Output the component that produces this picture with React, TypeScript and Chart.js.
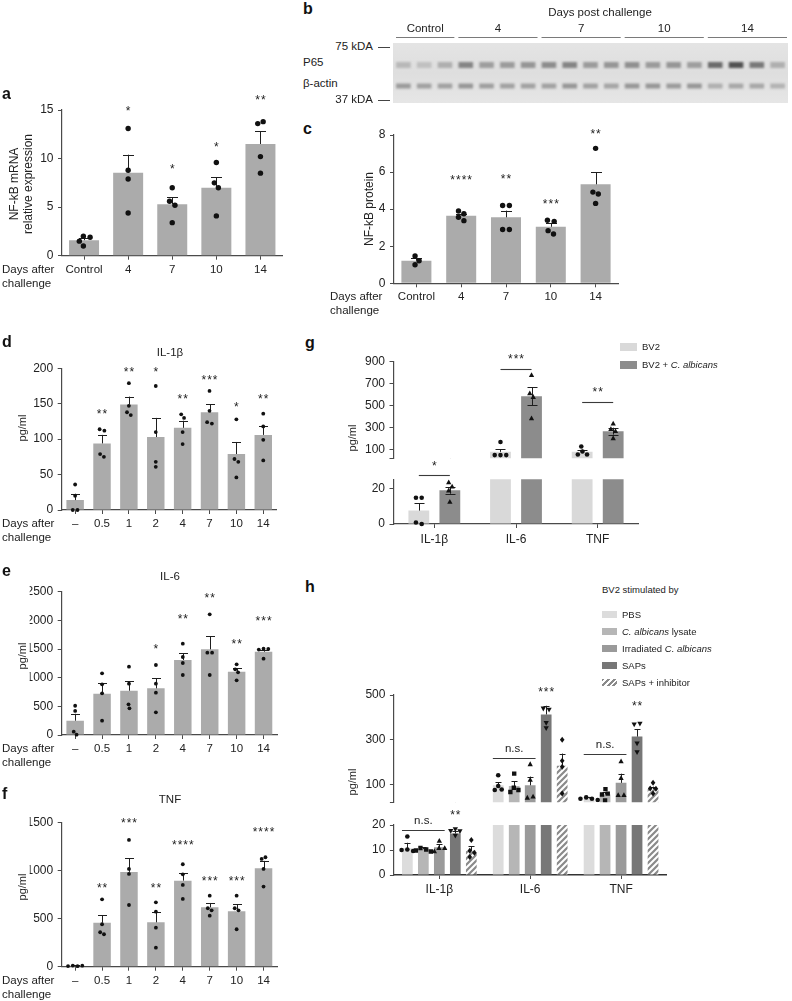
import React, { useEffect, useRef } from 'react';
import { Chart, registerables } from 'chart.js';

Chart.register(...registerables);

const FONT = '"Liberation Sans", Arial, Helvetica, sans-serif';
const INK = '#222222';
const AXIS = '#4a4a4a';
const BAR = '#ababab';
Chart.defaults.font.family = FONT;
Chart.defaults.color = INK;

// ---------------- panel a ----------------
const aLabels = ['Control', '4', '7', '10', '14'];
const aMeans = [1.6, 8.55, 5.3, 7.0, 11.5];
const aSem = [0.2, 1.85, 0.7, 1.1, 1.3];
const aPoints = [[2.0, 1.9, 1.5, 1.0], [13.1, 8.8, 7.9, 4.4], [7.0, 5.6, 5.2, 3.4], [9.6, 7.5, 7.0, 4.1], [13.6, 13.8, 10.2, 8.5]];
const aStars = ['', '*', '*', '*', '**'];
const aStarAt = [0, 15.1, 9.1, 11.4, 16.2];
const aTicks = [0, 5, 10, 15];

// ---------------- panel b (blot) ----------------
const blotGroups = ['Control', '4', '7', '10', '14'];
const blotGroupLanes = [3, 4, 4, 4, 4];
const blotP65 = [0.25, 0.2, 0.3, 0.55, 0.4, 0.42, 0.45, 0.5, 0.55, 0.42, 0.45, 0.48, 0.42, 0.45, 0.4, 0.7, 0.85, 0.62, 0.3];
const blotActin = [0.42, 0.38, 0.38, 0.45, 0.4, 0.38, 0.38, 0.38, 0.45, 0.38, 0.36, 0.45, 0.45, 0.42, 0.45, 0.3, 0.35, 0.35, 0.28];
const blotP65Band = [19, 25];
const blotActinBand = [40.5, 45.5];

// ---------------- panel c ----------------
const cLabels = ['Control', '4', '7', '10', '14'];
const cMeans = [1.22, 3.65, 3.56, 3.05, 5.34];
const cSem = [0.13, 0.1, 0.36, 0.19, 0.65];
const cPoints = [[1.47, 1.22, 1.0], [3.9, 3.75, 3.56, 3.38], [4.2, 4.2, 2.9, 2.9], [3.4, 3.34, 2.84, 2.66], [7.28, 4.92, 4.82, 4.31]];
const cStars = ['', '****', '**', '***', '**'];
const cStarAt = [0, 5.7, 5.73, 4.39, 8.16];
const cTicks = [0, 2, 4, 6, 8];

// ---------------- panels d, e, f ----------------
const dayLabels = ['–', '0.5', '1', '2', '4', '7', '10', '14'];

const dMeans = [14, 94, 149, 103, 116, 138, 79, 106];
const dSem = [9, 12, 11, 27, 10, 11, 17, 13];
const dPoints = [[36, 20, 0, 0], [114, 112, 79, 75], [179, 147, 138, 134], [175, 110, 68, 61], [135, 130, 110, 93], [168, 140, 124, 122], [128, 72, 68, 46], [136, 118, 99, 70]];
const dStars = ['', '**', '**', '*', '**', '***', '*', '**'];
const dStarAt = [0, 138, 198, 198, 160, 186, 148, 160];
const dTicks = [0, 50, 100, 150, 200];

const eMeans = [250, 721, 773, 814, 1308, 1495, 1105, 1453];
const eSem = [120, 186, 169, 175, 122, 232, 58, 24];
const ePoints = [[510, 420, 58, 5], [1076, 884, 727, 250], [1192, 895, 535, 465], [1221, 895, 738, 396], [1593, 1361, 1256, 1047], [2105, 1436, 1436, 1047], [1233, 1146, 1094, 954], [1506, 1500, 1490, 1331]];
const eStars = ['', '', '', '*', '**', '**', '**', '***'];
const eStarAt = [0, 0, 0, 1540, 2064, 2430, 1617, 2024];
const eTicks = [0, 500, 1000, 1500, 2000, 2500];

const fMeans = [8, 457, 985, 461, 894, 617, 576, 1023];
const fSem = [5, 80, 142, 111, 77, 45, 73, 76];
const fPoints = [[12, 5, 7, 11], [700, 441, 358, 337], [1317, 1016, 964, 641], [669, 572, 405, 198], [1064, 960, 849, 704], [738, 607, 586, 530], [738, 607, 586, 389], [1120, 1137, 1016, 832]];
const fStars = ['', '**', '***', '**', '****', '***', '***', '****'];
const fStarAt = [0, 842, 1518, 842, 1283, 912, 912, 1421];
const fTicks = [0, 500, 1000, 1500];

// ---------------- panel g ----------------
const cytLabels = ['IL-1β', 'IL-6', 'TNF'];
const gBv2Means = [7.5, 83, 84];
const gBv2Sem = [4.1, 25, 19];
const gBv2Points = [[14.7, 14.7, 0.8, 0], [172, 54, 54, 54], [131, 87, 59, 59]];
const gCalbMeans = [18.9, 585, 270];
const gCalbSem = [2.0, 80, 31];
const gCalbPoints = [[23.2, 20.9, 18.7, 12.3], [775, 610, 577, 384], [337, 288, 269, 205]];
const gSig = ['*', '***', '**'];
const gSigAt = [27.3, 834, 537];
const gUpperTicks = [25, 100, 300, 500, 700, 900];
const gLowerTicks = [0, 10, 20, 25];

// ---------------- panel h ----------------
const hPbsMeans = [10.7, 96, 37];
const hPbsSem = [2.2, 14, 7];
const hPbsPoints = [[15.4, 10.2, 9.6, 10.0], [141, 93, 77, 75], [42, 36, 36, 30]];
const hLysMeans = [10.3, 93, 55];
const hLysSem = [0.8, 21, 11];
const hLysPoints = [[10.8, 10.2, 9.8, 9.4], [148, 85, 75, 66], [79, 59, 55, 28]];
const hIrrMeans = [11.1, 96, 107];
const hIrrSem = [1.2, 39, 41];
const hIrrPoints = [[13.6, 10.7, 10.7, 9.4], [190, 120, 40, 45], [203, 128, 52, 52]];
const hSapMeans = [16.6, 413, 314];
const hSapSem = [1.2, 39, 34];
const hSapPoints = [[18.4, 17.6, 17.7, 15.8], [440, 435, 376, 352], [369, 372, 284, 245]];
const hInhMeans = [9.7, 183, 79];
const hInhSem = [1.9, 55, 11];
const hInhPoints = [[14, 9.7, 8.9, 7.2], [300, 206, 179, 59], [107, 82, 81, 59]];
const hNs = ['n.s.', 'n.s.', 'n.s.'];
const hNsAt = [18, 217.5, 235];
const hStars = ['**', '***', '**'];
const hStarAt = [24.7, 521, 459];
const hUpperTicks = [20, 100, 300, 500];
const hLowerTicks = [0, 10, 20];

// ---------------- helpers ----------------
type Shape = 'circle' | 'square' | 'triangle' | 'triangleDown' | 'diamond';

function hatchPattern(ctx: CanvasRenderingContext2D): CanvasPattern {
  const c = document.createElement('canvas');
  c.width = 6;
  c.height = 6;
  const g = c.getContext('2d')!;
  g.fillStyle = '#ffffff';
  g.fillRect(0, 0, 6, 6);
  g.strokeStyle = '#8a8a8a';
  g.lineWidth = 2.2;
  g.beginPath();
  g.moveTo(-1, 7); g.lineTo(7, -1);
  g.moveTo(-2, 2); g.lineTo(2, -2);
  g.moveTo(4, 8); g.lineTo(8, 4);
  g.stroke();
  return ctx.createPattern(c, 'repeat')!;
}

function swarm(ys: number[], r: number): number[] {
  const xs: number[] = new Array(ys.length).fill(0);
  const dmin = 2 * r + 0.3;
  const placed: number[] = [];
  ys.forEach((y, i) => {
    for (let k = 0; k < 40; k++) {
      const cand = k === 0 ? 0 : (k % 2 ? 1 : -1) * Math.ceil(k / 2) * (r / 2);
      let ok = true;
      for (const j of placed) {
        const dx = xs[j] - cand;
        const dy = ys[j] - y;
        if (dx * dx + dy * dy < dmin * dmin) { ok = false; break; }
      }
      if (ok) { xs[i] = cand; break; }
    }
    placed.push(i);
  });
  const seen = new Array(ys.length).fill(false);
  for (let i = 0; i < ys.length; i++) {
    if (seen[i]) continue;
    const stack = [i];
    const cl: number[] = [];
    seen[i] = true;
    while (stack.length) {
      const a = stack.pop()!;
      cl.push(a);
      for (let b = 0; b < ys.length; b++) {
        if (!seen[b] && Math.abs(ys[a] - ys[b]) < dmin) { seen[b] = true; stack.push(b); }
      }
    }
    const m = cl.reduce((s, a) => s + xs[a], 0) / cl.length;
    cl.forEach((a) => { xs[a] -= m; });
  }
  return xs;
}

function drawShape(ctx: CanvasRenderingContext2D, shape: Shape, x: number, y: number, r: number) {
  ctx.beginPath();
  if (shape === 'circle') ctx.arc(x, y, r, 0, Math.PI * 2);
  else if (shape === 'square') ctx.rect(x - r * 0.95, y - r * 0.95, r * 1.9, r * 1.9);
  else if (shape === 'triangle') {
    ctx.moveTo(x, y - r * 1.3); ctx.lineTo(x + r * 1.15, y + r * 0.8); ctx.lineTo(x - r * 1.15, y + r * 0.8); ctx.closePath();
  } else if (shape === 'triangleDown') {
    ctx.moveTo(x, y + r * 1.3); ctx.lineTo(x + r * 1.15, y - r * 0.8); ctx.lineTo(x - r * 1.15, y - r * 0.8); ctx.closePath();
  } else {
    ctx.moveTo(x, y - r * 1.3); ctx.lineTo(x + r, y); ctx.lineTo(x, y + r * 1.3); ctx.lineTo(x - r, y); ctx.closePath();
  }
  ctx.fillStyle = '#111111';
  ctx.fill();
}

function drawStars(ctx: any, t: string, x: number, cy: number) {
  ctx.font = `12px ${FONT}`;
  ctx.letterSpacing = '1px';
  ctx.fillText(t, x + 0.5, cy + 2.8);
  ctx.letterSpacing = '0px';
}

type SeriesSpec = { means: number[]; sems: number[]; points: number[][]; fill: string; shape: Shape; both?: boolean };
type Note = { kind: 'star' | 'sig'; text: string; cat: number; at: number; ds?: number; from?: number; to?: number; edges?: boolean };
type PanelSpec = {
  labels: string[]; series: SeriesSpec[]; min: number; max: number; ticks: number[]; blank?: number[];
  area: { l: number; t: number; r: number; b: number }; box: { x: number; y: number; w: number };
  showX: boolean; dashed?: boolean; cat: number; bar: number; r: number; cap: number;
  clipTop: number; clipBottom: number; notes: Note[]; xFont: number; xPad: number;
};

const starNotes = (texts: string[], at: number[], ds = 0): Note[] =>
  texts.map((t, i) => ({ kind: 'star' as const, text: t, cat: i, at: at[i], ds })).filter((n) => n.text);

function barPanel(p: PanelSpec) {
  const XH = p.showX ? 24 : 0;
  const YW = 32;
  const h = Math.ceil(p.area.b + XH + (p.showX ? 4 : 2.5) - p.box.y);
  const box = { x: p.box.x, y: p.box.y, w: p.box.w, h };
  const padding = {
    left: p.area.l - box.x - YW,
    top: p.area.t - box.y,
    right: box.x + box.w - p.area.r,
    bottom: box.y + h - p.area.b - XH,
  };
  const visible = (v: number) => !((p.clipBottom === 0 && v < p.min) || (p.clipTop === 0 && v > p.max));
  const make = (ctx: CanvasRenderingContext2D) => {
    const marks = {
      id: 'marks',
      afterDatasetsDraw(chart: any) {
        const c = chart.ctx;
        const y = chart.scales.y;
        const ca = chart.chartArea;
        c.save();
        c.beginPath();
        c.rect(ca.left - 8, ca.top - p.clipTop, ca.right - ca.left + 16, ca.bottom - ca.top + p.clipTop + p.clipBottom);
        c.clip();
        p.series.forEach((s, di) => {
          const meta = chart.getDatasetMeta(di);
          meta.data.forEach((el: any, i: number) => {
            const x = Math.round(el.x) + 0.5;
            const m = s.means[i];
            const e = s.sems[i];
            const yT = y.getPixelForValue(m + e);
            const yB = y.getPixelForValue(s.both ? m - e : m);
            c.strokeStyle = '#1e1e1e';
            c.lineWidth = 1;
            c.beginPath();
            c.moveTo(x, yB); c.lineTo(x, yT);
            c.moveTo(x - p.cap / 2, Math.round(yT) + 0.5); c.lineTo(x + p.cap / 2, Math.round(yT) + 0.5);
            if (s.both) { c.moveTo(x - p.cap / 2, Math.round(yB) + 0.5); c.lineTo(x + p.cap / 2, Math.round(yB) + 0.5); }
            c.stroke();
            const vals = s.points[i].filter(visible);
            const ys = vals.map((v) => y.getPixelForValue(v));
            const dx = swarm(ys, p.r);
            ys.forEach((py, k) => drawShape(c, s.shape, el.x + dx[k], py, p.r));
          });
        });
        c.restore();
        c.save();
        c.fillStyle = INK;
        c.strokeStyle = '#3a3a3a';
        c.lineWidth = 1.1;
        c.textAlign = 'center';
        c.textBaseline = 'middle';
        for (const n of p.notes) {
          const py = y.getPixelForValue(n.at);
          if (n.kind === 'star') {
            const el = chart.getDatasetMeta(n.ds ?? 0).data[n.cat];
            drawStars(c, n.text, el.x, py);
          } else {
            const a = chart.getDatasetMeta(n.from ?? 0).data[n.cat];
            const b = chart.getDatasetMeta(n.to ?? 1).data[n.cat];
            const x0 = n.edges ? a.x - a.width / 2 : a.x;
            const x1 = n.edges ? b.x + b.width / 2 : b.x;
            const ly = Math.round(py) + 0.5;
            c.beginPath(); c.moveTo(x0, ly); c.lineTo(x1, ly); c.stroke();
            const mx = (x0 + x1) / 2;
            if (n.text === 'n.s.') {
              c.font = `11.5px ${FONT}`;
              c.fillText(n.text, mx, py - 9.3);
            } else {
              drawStars(c, n.text, mx, py - 11.5);
            }
          }
        }
        c.restore();
      },
    };
    const datasets = p.series.map((s) => ({
      type: 'bar',
      data: s.means.slice(),
      backgroundColor: s.fill === 'hatch' ? hatchPattern(ctx) : s.fill,
      borderWidth: 0,
      barPercentage: p.bar,
      categoryPercentage: p.cat,
      clip: 0,
    }));
    return {
      type: 'bar',
      data: { labels: p.labels, datasets },
      options: {
        responsive: false,
        maintainAspectRatio: false,
        animation: false,
        events: [],
        layout: { padding },
        plugins: { legend: { display: false }, tooltip: { enabled: false } },
        scales: {
          x: {
            display: p.showX,
            offset: true,
            grid: { display: true, drawOnChartArea: false, drawTicks: true, tickLength: 4, offset: false, color: AXIS, lineWidth: 1 },
            border: { display: true, color: p.dashed ? '#333333' : AXIS, width: p.dashed ? 1.6 : 1.2, dash: p.dashed ? [2, 3] : [] },
            ticks: { color: INK, font: { size: p.xFont }, padding: p.xPad, maxRotation: 0, minRotation: 0, autoSkip: false },
            afterFit: (s: any) => { s.height = XH; },
          },
          y: {
            min: p.min,
            max: p.max,
            grid: { display: true, drawOnChartArea: false, drawTicks: true, tickLength: 4, color: AXIS, lineWidth: 1 },
            border: { display: true, color: AXIS, width: 1.2 },
            ticks: {
              color: INK,
              font: { size: 12 },
              padding: 4.5,
              callback: (v: number) => (p.blank && p.blank.includes(v) ? '' : String(v)),
            },
            afterBuildTicks: (s: any) => { s.ticks = p.ticks.map((v) => ({ value: v })); },
            afterFit: (s: any) => { s.width = YW; },
          },
        },
      },
      plugins: [marks],
    };
  };
  return { box, make };
}

function blotPanel() {
  const box = { x: 393, y: 18, w: 399, h: 88 };
  const area = { l: 393, t: 43, r: 788, b: 103 };
  const padding = { left: area.l - box.x, top: area.t - box.y, right: box.x + box.w - area.r, bottom: box.y + box.h - area.b };
  const shade = (d: number) => {
    const g = Math.round(226 - d * 170);
    return `rgb(${g},${g},${g})`;
  };
  const make = () => {
    const deco = {
      id: 'deco',
      beforeDatasetsDraw(chart: any) {
        const c = chart.ctx;
        const ca = chart.chartArea;
        const grad = c.createLinearGradient(0, ca.top, 0, ca.bottom);
        grad.addColorStop(0, '#e4e4e4');
        grad.addColorStop(0.5, '#dedede');
        grad.addColorStop(1, '#e6e6e6');
        c.fillStyle = grad;
        c.fillRect(ca.left, ca.top, ca.right - ca.left, ca.bottom - ca.top);
        c.save();
        c.filter = 'blur(1.1px)';
      },
      afterDatasetsDraw(chart: any) {
        const c = chart.ctx;
        c.restore();
        const ca = chart.chartArea;
        const xs = chart.scales.x;
        const laneW = (ca.right - ca.left) / blotP65.length;
        c.save();
        c.strokeStyle = '#7a7a7a';
        c.lineWidth = 1;
        c.fillStyle = INK;
        c.font = `11.5px ${FONT}`;
        c.textAlign = 'center';
        c.textBaseline = 'middle';
        let lane = 0;
        blotGroups.forEach((g, gi) => {
          const n = blotGroupLanes[gi];
          const x0 = xs.getPixelForValue(lane) - laneW / 2 + 3;
          const x1 = xs.getPixelForValue(lane + n - 1) + laneW / 2 - 1;
          const ly = Math.round(ca.top - 6) + 0.5;
          c.beginPath(); c.moveTo(x0, ly); c.lineTo(x1, ly); c.stroke();
          c.fillText(g, (x0 + x1) / 2, ca.top - 14);
          lane += n;
        });
        c.restore();
      },
    };
    return {
      type: 'bar',
      data: {
        labels: blotP65.map((_, i) => String(i + 1)),
        datasets: [
          { data: blotP65.map(() => blotP65Band.slice()), backgroundColor: blotP65.map(shade) },
          { data: blotActin.map(() => blotActinBand.slice()), backgroundColor: blotActin.map(shade) },
        ],
      },
      options: {
        responsive: false,
        maintainAspectRatio: false,
        animation: false,
        events: [],
        layout: { padding },
        plugins: { legend: { display: false }, tooltip: { enabled: false } },
        datasets: { bar: { grouped: false, barPercentage: 0.7, categoryPercentage: 1, borderWidth: 0 } },
        scales: {
          x: { display: false, offset: true },
          y: { display: false, min: 0, max: 60, reverse: true },
        },
      },
      plugins: [deco],
    };
  };
  return { box, make };
}

function ChartCanvas({ panel }: { panel: { box: any; make: (ctx: any) => any } }) {
  const ref = useRef<HTMLCanvasElement>(null);
  useEffect(() => {
    const cv = ref.current!;
    const chart = new Chart(cv, panel.make(cv.getContext('2d')));
    return () => chart.destroy();
  }, []);
  const b = panel.box;
  return (
    <canvas
      ref={ref}
      width={b.w}
      height={b.h}
      style={{ position: 'absolute', left: b.x, top: b.y, width: b.w, height: b.h }}
    />
  );
}

function Txt({ x, cy, s = 11.5, a = 'left', b = false, children }: any) {
  const st: any = {
    position: 'absolute', top: cy - s / 2, fontSize: s, lineHeight: s + 'px', whiteSpace: 'nowrap',
    fontWeight: b ? 700 : 400, color: INK, fontFamily: FONT,
  };
  if (a === 'left') st.left = x;
  else if (a === 'center') { st.left = x - 150; st.width = 300; st.textAlign = 'center'; }
  else { st.left = x - 300; st.width = 300; st.textAlign = 'right'; }
  return <div style={st}>{children}</div>;
}

function VTxt({ cx, cy, s = 11.5, children }: any) {
  return (
    <div style={{
      position: 'absolute', left: cx, top: cy, transform: 'translate(-50%, -50%) rotate(-90deg)',
      fontSize: s, lineHeight: s + 'px', whiteSpace: 'nowrap', color: INK, fontFamily: FONT,
    }}>{children}</div>
  );
}

function Letter({ x, cy, t }: any) {
  return (
    <div style={{ position: 'absolute', left: x, top: cy - 9, fontSize: 16, lineHeight: '16px', fontWeight: 700, color: '#111', fontFamily: FONT }}>{t}</div>
  );
}

function Swatch({ x, y, w, h, bg }: any) {
  return <div style={{ position: 'absolute', left: x, top: y, width: w, height: h, background: bg }} />;
}

function Days({ x, cy }: any) {
  return (
    <>
      <Txt x={x} cy={cy}>Days after</Txt>
      <Txt x={x} cy={cy + 13.5}>challenge</Txt>
    </>
  );
}

const HATCH_CSS = 'repeating-linear-gradient(135deg, #8a8a8a 0px, #8a8a8a 2px, #ffffff 2px, #ffffff 4px)';

export default function App() {
  const common = { cat: 1, clipTop: 4, clipBottom: 4 };

  const pa = barPanel({
    ...common, labels: aLabels, series: [{ means: aMeans, sems: aSem, points: aPoints, fill: BAR, shape: 'circle' }],
    min: 0, max: 15, ticks: aTicks, area: { l: 62, t: 110, r: 282.5, b: 255.7 }, box: { x: 0, y: 88, w: 298 },
    showX: true, bar: 0.68, r: 2.7, cap: 11, notes: starNotes(aStars, aStarAt), xFont: 11.5, xPad: 3.2,
  });
  const pc = barPanel({
    ...common, labels: cLabels, series: [{ means: cMeans, sems: cSem, points: cPoints, fill: BAR, shape: 'circle' }],
    min: 0, max: 8, ticks: cTicks, area: { l: 394, t: 135, r: 618, b: 283.3 }, box: { x: 340, y: 115, w: 290 },
    showX: true, bar: 0.67, r: 2.7, cap: 11, notes: starNotes(cStars, cStarAt), xFont: 11.5, xPad: 3.0,
  });
  const pd = barPanel({
    ...common, labels: dayLabels, series: [{ means: dMeans, sems: dSem, points: dPoints, fill: BAR, shape: 'circle' }],
    min: 0, max: 200, ticks: dTicks, area: { l: 61.7, t: 368.3, r: 276.7, b: 510 }, box: { x: 0, y: 356, w: 292 },
    showX: true, bar: 0.65, r: 1.9, cap: 9, notes: starNotes(dStars, dStarAt), xFont: 11.5, xPad: 3.2,
  });
  const pe = barPanel({
    ...common, labels: dayLabels, series: [{ means: eMeans, sems: eSem, points: ePoints, fill: BAR, shape: 'circle' }],
    min: 0, max: 2500, ticks: eTicks, area: { l: 61.7, t: 591.7, r: 277, b: 735 }, box: { x: 0, y: 580, w: 292 },
    showX: true, bar: 0.65, r: 1.9, cap: 9, notes: starNotes(eStars, eStarAt), xFont: 11.5, xPad: 3.2,
  });
  const pf = barPanel({
    ...common, labels: dayLabels, series: [{ means: fMeans, sems: fSem, points: fPoints, fill: BAR, shape: 'circle' }],
    min: 0, max: 1500, ticks: fTicks, area: { l: 61.7, t: 822.3, r: 277, b: 966.7 }, box: { x: 0, y: 806, w: 292 },
    showX: true, bar: 0.65, r: 1.9, cap: 9, notes: starNotes(fStars, fStarAt), xFont: 11.5, xPad: 3.2,
  });

  const gSeries: SeriesSpec[] = [
    { means: gBv2Means, sems: gBv2Sem, points: gBv2Points, fill: '#d9d9d9', shape: 'circle' },
    { means: gCalbMeans, sems: gCalbSem, points: gCalbPoints, fill: '#8c8c8c', shape: 'triangle', both: true },
  ];
  const gSigNotes = (lower: boolean): Note[] =>
    gSig.map((t, i) => ({ kind: 'sig' as const, text: t, cat: i, at: gSigAt[i], from: 0, to: 1 }))
      .filter((n) => (gCalbMeans[n.cat] < 25) === lower);
  const pgU = barPanel({
    labels: cytLabels, series: gSeries, min: 25, max: 900, ticks: gUpperTicks, blank: [25],
    area: { l: 393.5, t: 361.3, r: 638.5, b: 466.7 }, box: { x: 340, y: 343, w: 310 },
    showX: false, cat: 0.76, bar: 0.67, r: 2.3, cap: 10, clipTop: 4, clipBottom: 0, notes: gSigNotes(false), xFont: 12, xPad: 4.8,
  });
  const pgL = barPanel({
    labels: cytLabels, series: gSeries, min: 0, max: 25, ticks: gLowerTicks, blank: [25],
    area: { l: 393.5, t: 479.3, r: 638.5, b: 524 }, box: { x: 340, y: 455, w: 310 },
    showX: true, cat: 0.76, bar: 0.67, r: 2.3, cap: 10, clipTop: 0, clipBottom: 4, notes: gSigNotes(true), xFont: 12, xPad: 4.8,
  });

  const hSeries: SeriesSpec[] = [
    { means: hPbsMeans, sems: hPbsSem, points: hPbsPoints, fill: '#dcdcdc', shape: 'circle' },
    { means: hLysMeans, sems: hLysSem, points: hLysPoints, fill: '#b6b6b6', shape: 'square' },
    { means: hIrrMeans, sems: hIrrSem, points: hIrrPoints, fill: '#9a9a9a', shape: 'triangle' },
    { means: hSapMeans, sems: hSapSem, points: hSapPoints, fill: '#777777', shape: 'triangleDown' },
    { means: hInhMeans, sems: hInhSem, points: hInhPoints, fill: 'hatch', shape: 'diamond' },
  ];
  const hNotes = (lower: boolean): Note[] => {
    const out: Note[] = [];
    hNs.forEach((t, i) => {
      if ((hSapMeans[i] < 20) === lower) out.push({ kind: 'sig', text: t, cat: i, at: hNsAt[i], from: 0, to: 2, edges: true });
    });
    hStars.forEach((t, i) => {
      if ((hSapMeans[i] < 20) === lower) out.push({ kind: 'star', text: t, cat: i, at: hStarAt[i], ds: 3 });
    });
    return out;
  };
  const phU = barPanel({
    labels: cytLabels, series: hSeries, min: 20, max: 500, ticks: hUpperTicks, blank: [20],
    area: { l: 393.9, t: 695, r: 666.5, b: 811 }, box: { x: 340, y: 678, w: 340 },
    showX: false, cat: 0.88, bar: 0.67, r: 2.3, cap: 6, clipTop: 4, clipBottom: 0, notes: hNotes(false), xFont: 12, xPad: 3.8,
  });
  const phL = barPanel({
    labels: cytLabels, series: hSeries, min: 0, max: 20, ticks: hLowerTicks,
    area: { l: 393.9, t: 825, r: 666.5, b: 875 }, box: { x: 340, y: 805, w: 340 },
    showX: true, dashed: true, cat: 0.88, bar: 0.67, r: 2.3, cap: 6, clipTop: 0, clipBottom: 4, notes: hNotes(true), xFont: 12, xPad: 3.8,
  });
  const pb = blotPanel();

  return (
    <div style={{ position: 'absolute', left: 0, top: 0, width: 792, height: 1001, background: '#ffffff', overflow: 'hidden', fontFamily: FONT, color: INK }}>
      <ChartCanvas panel={pa} />
      <ChartCanvas panel={pb} />
      <ChartCanvas panel={pc} />
      <ChartCanvas panel={pd} />
      <ChartCanvas panel={pe} />
      <ChartCanvas panel={pf} />
      <ChartCanvas panel={pgU} />
      <ChartCanvas panel={pgL} />
      <ChartCanvas panel={phU} />
      <ChartCanvas panel={phL} />

      {/* panel letters */}
      <Letter x={2} cy={95} t="a" />
      <Letter x={303} cy={10} t="b" />
      <Letter x={303} cy={130} t="c" />
      <Letter x={2} cy={343} t="d" />
      <Letter x={2} cy={572} t="e" />
      <Letter x={2} cy={795} t="f" />
      <Letter x={305} cy={344} t="g" />
      <Letter x={305} cy={588} t="h" />

      {/* panel a */}
      <VTxt cx={14} cy={184} s={12}>NF-kB mRNA</VTxt>
      <VTxt cx={28} cy={184} s={12}>relative expression</VTxt>
      <Days x={2} cy={270} />

      {/* panel b */}
      <Txt x={600} cy={13} a="center">Days post challenge</Txt>
      <Txt x={373} cy={47} a="right">75 kDA</Txt>
      <div style={{ position: 'absolute', left: 378, top: 47, width: 12, height: 1, background: '#444' }} />
      <Txt x={303} cy={63}>P65</Txt>
      <Txt x={303} cy={84}>β-actin</Txt>
      <Txt x={373} cy={100} a="right">37 kDA</Txt>
      <div style={{ position: 'absolute', left: 378, top: 100, width: 12, height: 1, background: '#444' }} />

      {/* panel c */}
      <VTxt cx={369} cy={209} s={12}>NF-kB protein</VTxt>
      <Days x={330} cy={297} />

      {/* panels d, e, f */}
      <Txt x={170} cy={353} a="center">IL-1β</Txt>
      <VTxt cx={22} cy={428} s={11}>pg/ml</VTxt>
      <Days x={2} cy={524} />
      <Txt x={170} cy={577} a="center">IL-6</Txt>
      <VTxt cx={22} cy={656} s={11}>pg/ml</VTxt>
      <Days x={2} cy={749} />
      <Txt x={170} cy={800} a="center">TNF</Txt>
      <VTxt cx={22} cy={887} s={11}>pg/ml</VTxt>
      <Days x={2} cy={981} />

      {/* panel g */}
      <VTxt cx={352} cy={438} s={11}>pg/ml</VTxt>
      <Swatch x={620} y={342.5} w={17} h={8} bg="#d9d9d9" />
      <Txt x={642} cy={346.7} s={9.5}>BV2</Txt>
      <Swatch x={620} y={361} w={17} h={8} bg="#8c8c8c" />
      <Txt x={642} cy={365} s={9.5}>BV2 + <i>C. albicans</i></Txt>

      {/* panel h */}
      <VTxt cx={352} cy={782} s={11}>pg/ml</VTxt>
      <Txt x={602} cy={590} s={9.5}>BV2 stimulated by</Txt>
      <Swatch x={602} y={611} w={15} h={7} bg="#dcdcdc" />
      <Txt x={622} cy={614.5} s={9.5}>PBS</Txt>
      <Swatch x={602} y={628} w={15} h={7} bg="#b6b6b6" />
      <Txt x={622} cy={631.5} s={9.5}><i>C. albicans</i> lysate</Txt>
      <Swatch x={602} y={645} w={15} h={7} bg="#9a9a9a" />
      <Txt x={622} cy={648.7} s={9.5}>Irradiated <i>C. albicans</i></Txt>
      <Swatch x={602} y={662} w={15} h={7} bg="#777777" />
      <Txt x={622} cy={665.7} s={9.5}>SAPs</Txt>
      <Swatch x={602} y={679} w={15} h={7} bg={HATCH_CSS} />
      <Txt x={622} cy={682.7} s={9.5}>SAPs + inhibitor</Txt>
    </div>
  );
}
